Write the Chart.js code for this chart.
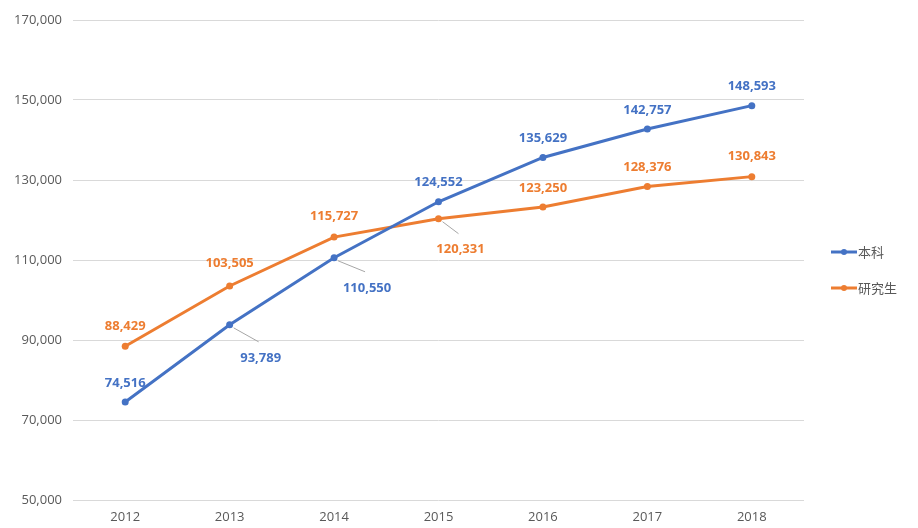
<!DOCTYPE html>
<html>
<head>
<meta charset="utf-8">
<script src="https://cdn.jsdelivr.net/npm/chart.js@4.4.1/dist/chart.umd.min.js"></script>
<style>
  html, body { margin: 0; padding: 0; background: #fff; }
  #wrap { width: 918px; height: 528px; }
</style>
</head>
<body>
<div id="wrap"><canvas id="lineChart" width="918" height="528"></canvas></div>
<script>
// data
var years = ['2012', '2013', '2014', '2015', '2016', '2017', '2018'];
var benke = [74516, 93789, 110550, 124552, 135629, 142757, 148593];
var yanjiusheng = [88429, 103505, 115727, 120331, 123250, 128376, 130843];
var seriesNames = ['本科', '研究生'];

var BLUE = '#4472C4';
var ORANGE = '#ED7D31';
var GRAY = '#595959';

// label offsets per point [dx, dy, leader]
var labelPos = [
    [[0, -19], [31, 33, 1], [33, 30, 1], [0, -19], [0, -19], [0, -19], [0, -19]],
    [[0, -20], [0, -23], [0, -21], [22, 31, 1], [0, -19], [0, -19], [0, -20]]
];

var valueLabels = {
    id: 'valueLabels',
    afterDatasetsDraw: function (chart) {
        var c = chart.ctx;
        c.save();
        c.font = 'bold 13px "Open Sans", sans-serif';
        c.textAlign = 'center';
        c.textBaseline = 'middle';
        chart.data.datasets.forEach(function (ds, i) {
            var meta = chart.getDatasetMeta(i);
            meta.data.forEach(function (pt, j) {
                var p = labelPos[i][j];
                var lx = pt.x + p[0], ly = pt.y + p[1];
                if (p[2]) {
                    c.strokeStyle = '#a6a6a6';
                    c.lineWidth = 1;
                    c.beginPath();
                    c.moveTo(pt.x + 4, pt.y + 3);
                    c.lineTo(lx - 2, ly - 16);
                    c.stroke();
                }
                c.fillStyle = ds.borderColor;
                c.fillText(ds.data[j].toLocaleString('en-US'), lx, ly);
            });
        });
        c.restore();
    }
};

var sideLegend = {
    id: 'sideLegend',
    afterDraw: function (chart) {
        var c = chart.ctx;
        c.save();
        c.font = '13px "Noto Sans CJK SC", sans-serif';
        c.textBaseline = 'middle';
        chart.data.datasets.forEach(function (ds, i) {
            var y = 252 + i * 36;
            c.strokeStyle = ds.borderColor;
            c.lineWidth = 3;
            c.beginPath();
            c.moveTo(831, y);
            c.lineTo(857, y);
            c.stroke();
            c.fillStyle = ds.borderColor;
            c.beginPath();
            c.arc(844, y, 3, 0, Math.PI * 2);
            c.fill();
            c.fillStyle = GRAY;
            c.fillText(ds.label, 858, y);
        });
        c.restore();
    }
};

var ctx = document.getElementById('lineChart');
var myChart = new Chart(ctx, {
    type: 'line',
    data: {
        labels: years,
        datasets: [
            {
                label: seriesNames[0],
                data: benke,
                borderColor: BLUE,
                backgroundColor: BLUE,
                borderWidth: 3,
                pointRadius: 3.5,
                pointBorderWidth: 0,
                tension: 0
            },
            {
                label: seriesNames[1],
                data: yanjiusheng,
                borderColor: ORANGE,
                backgroundColor: ORANGE,
                borderWidth: 3,
                pointRadius: 3.5,
                pointBorderWidth: 0,
                tension: 0
            }
        ]
    },
    options: {
        responsive: false,
        animation: false,
        layout: { padding: { top: 20, right: 114, left: 0, bottom: 0 } },
        plugins: {
            legend: { display: false },
            tooltip: { enabled: false }
        },
        scales: {
            x: {
                offset: true,
                grid: { display: false, drawTicks: false, offset: true },
                border: { display: false },
                ticks: { color: GRAY, font: { size: 13, family: '"Open Sans", sans-serif' }, padding: 9 },
                afterFit: function (s) { s.height = 28; }
            },
            y: {
                min: 50000,
                max: 170000,
                grid: { color: '#d9d9d9', lineWidth: 1, drawTicks: false },
                border: { display: false },
                ticks: {
                    stepSize: 20000,
                    color: GRAY,
                    padding: 11,
                    font: { size: 13, family: '"Open Sans", sans-serif' },
                    callback: function (v) { return v.toLocaleString('en-US'); }
                },
                afterFit: function (s) { s.width = 73; }
            }
        }
    },
    plugins: [valueLabels, sideLegend]
});
</script>
</body>
</html>
